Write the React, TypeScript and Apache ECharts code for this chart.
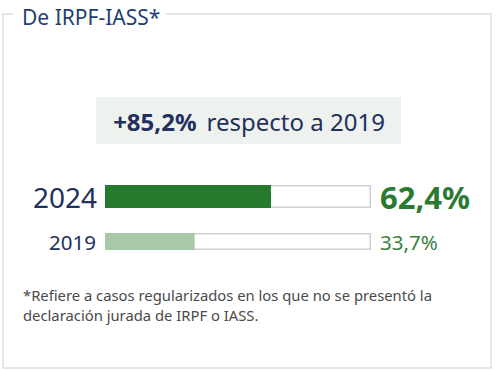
import React, { useEffect, useRef } from "react";
import * as echarts from "echarts";

const years = ["2024", "2019"];
const shares = [62.4, 33.7];
const trackMax = 100;
const titleText = "De IRPF-IASS*";
const compareSuffix = "respecto a 2019";
const footnoteLines = [
  "*Refiere a casos regularizados en los que no se presentó la",
  "declaración jurada de IRPF o IASS.",
];

const FONT = "'Noto Sans', 'Open Sans', sans-serif";
const NAVY = "#232f5c";
const fmt = (v: number) => v.toFixed(1).replace(".", ",") + "%";

export default function App() {
  const ref = useRef<HTMLDivElement>(null);
  useEffect(() => {
    if (!ref.current) return;
    const chart = echarts.init(ref.current, undefined, { renderer: "svg" });
    const change = (shares[0] / shares[1] - 1) * 100;
    const grids = [
      { left: 105, top: 185, width: 266, height: 23 },
      { left: 105, top: 233, width: 266, height: 17 },
    ];
    const barW = [23, 17];
    const yearFont = [28, 20.5];
    const valFont = [31, 20.5];
    const valWeight = ["bold", "normal"];
    const fillColor = ["#257a2d", "#a7c9a8"];
    const valColor = ["#2b7a31", "#3b7f40"];

    const series: any[] = [];
    years.forEach((y, i) => {
      series.push({
        type: "bar",
        xAxisIndex: i,
        yAxisIndex: i,
        data: [trackMax],
        barWidth: barW[i],
        itemStyle: { color: "#ffffff", borderColor: "#cfcfcf", borderWidth: 1.5 },
        label: {
          show: true,
          position: "right",
          distance: 9,
          formatter: () => fmt(shares[i]),
          fontFamily: FONT,
          fontSize: valFont[i],
          fontWeight: valWeight[i],
          color: valColor[i],
        },
        silent: true,
        z: 1,
      });
      series.push({
        type: "bar",
        xAxisIndex: i,
        yAxisIndex: i,
        data: [shares[i]],
        barWidth: barW[i],
        barGap: "-100%",
        itemStyle: { color: fillColor[i] },
        z: 2,
      });
    });

    chart.setOption({
      animation: false,
      grid: grids,
      xAxis: grids.map((_, i) => ({ type: "value", gridIndex: i, min: 0, max: trackMax, show: false })),
      yAxis: grids.map((_, i) => ({
        type: "category",
        gridIndex: i,
        data: [years[i]],
        axisLine: { show: false },
        axisTick: { show: false },
        splitLine: { show: false },
        axisLabel: {
          margin: i === 0 ? 8 : 9,
          fontFamily: FONT,
          fontSize: yearFont[i],
          color: NAVY,
        },
      })),
      series,
      graphic: [
        {
          type: "polyline",
          shape: {
            points: [
              [166, 14],
              [491, 14],
              [491, 368],
              [3, 368],
              [3, 14],
              [13, 14],
            ],
          },
          style: { stroke: "#d9e2e7", lineWidth: 1.5, fill: null },
          silent: true,
        },
        {
          type: "text",
          x: 22,
          y: 17,
          style: {
            text: titleText,
            fontFamily: FONT,
            fontSize: 21,
            fill: "#1f3f72",
            verticalAlign: "middle",
          },
        },
        {
          type: "rect",
          shape: { x: 96, y: 97, width: 305, height: 47 },
          style: { fill: "#eef2ee" },
          silent: true,
        },
        {
          type: "text",
          x: 249,
          y: 121,
          style: {
            text: "{b|+" + change.toFixed(1).replace(".", ",") + "%}{n|" + compareSuffix + "}",
            align: "center",
            verticalAlign: "middle",
            rich: {
              b: { fontFamily: FONT, fontSize: 24, fontWeight: "bold", fill: NAVY, padding: [0, 10, 0, 0] },
              n: { fontFamily: FONT, fontSize: 24, fill: NAVY },
            },
          },
        },
        {
          type: "text",
          x: 23,
          y: 285,
          style: {
            text: footnoteLines.join("\n"),
            fontFamily: FONT,
            fontSize: 14.8,
            lineHeight: 20,
            fill: "#4a4a4a",
          },
        },
      ],
    });
    return () => chart.dispose();
  }, []);
  return (
    <div
      ref={ref}
      style={{ position: "absolute", left: 0, top: 0, width: 497, height: 371, background: "#ffffff" }}
    />
  );
}
